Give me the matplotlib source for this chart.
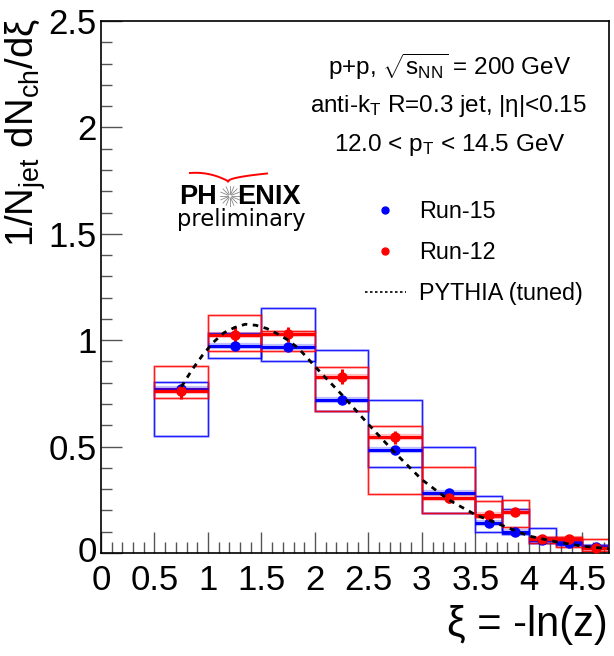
import numpy as np
import matplotlib
matplotlib.use("Agg")
import matplotlib.pyplot as plt
import matplotlib.transforms as mtransforms
from matplotlib.ticker import MultipleLocator
from matplotlib.lines import Line2D

plt.rcParams['font.family'] = ['Liberation Sans', 'DejaVu Sans']
plt.rcParams['mathtext.fontset'] = 'custom'
plt.rcParams['mathtext.rm'] = 'Liberation Sans'
plt.rcParams['mathtext.it'] = 'Liberation Sans'
plt.rcParams['mathtext.bf'] = 'Liberation Sans:bold'

# ---- data ----
bin_edges = [0.5, 1.0, 1.5, 2.0, 2.5, 3.0, 3.5, 3.75, 4.0, 4.25, 4.5, 4.75]

run15 = [0.770, 0.973, 0.970, 0.720, 0.486, 0.284, 0.140, 0.100, 0.061, 0.046, 0.030]
run15_stat = [0.012, 0.010, 0.010, 0.010, 0.010, 0.008, 0.006, 0.005, 0.004, 0.004, 0.003]
run15_sys_lo = [0.552, 0.917, 0.904, 0.665, 0.402, 0.190, 0.100, 0.089, 0.046, 0.038, 0.022]
run15_sys_hi = [0.805, 1.034, 1.152, 0.954, 0.717, 0.498, 0.268, 0.206, 0.116, 0.056, 0.036]

run12 = [0.759, 1.025, 1.028, 0.829, 0.543, 0.260, 0.177, 0.191, 0.066, 0.067, 0.022]
run12_stat = [0.035, 0.040, 0.035, 0.035, 0.030, 0.025, 0.012, 0.012, 0.008, 0.008, 0.006]
run12_sys_lo = [0.727, 0.948, 0.951, 0.669, 0.275, 0.190, 0.167, 0.121, 0.049, 0.030, 0.011]
run12_sys_hi = [0.879, 1.119, 1.045, 0.873, 0.595, 0.406, 0.245, 0.248, 0.077, 0.077, 0.064]

pythia_xi = [0.75, 0.85, 0.95, 1.05, 1.15, 1.25, 1.35, 1.45, 1.55, 1.65, 1.75, 1.85,
             1.95, 2.05, 2.25, 2.5, 2.75, 3.0, 3.25, 3.5, 3.75, 4.0, 4.25, 4.5, 4.75]
pythia_y = [0.78, 0.86, 0.93, 0.99, 1.035, 1.06, 1.075, 1.07, 1.055, 1.03, 1.0, 0.96,
            0.905, 0.85, 0.745, 0.605, 0.47, 0.345, 0.25, 0.18, 0.13, 0.08, 0.053, 0.032, 0.02]

x_ticks = [0, 0.5, 1, 1.5, 2, 2.5, 3, 3.5, 4, 4.5]
x_tick_labels = ["0", "0.5", "1", "1.5", "2", "2.5", "3", "3.5", "4", "4.5"]
y_ticks = [0, 0.5, 1, 1.5, 2, 2.5]
y_tick_labels = ["0", "0.5", "1", "1.5", "2", "2.5"]

# ---- figure ----
W, H = 614, 656
fig = plt.figure(figsize=(W / 100, H / 100), dpi=100)
ax = fig.add_axes([101 / W, 1 - 553 / H, (609 - 101) / W, (553 - 21) / H])

edges = np.array(bin_edges)
lo_e = edges[:-1]
hi_e = edges[1:]
centers = 0.5 * (lo_e + hi_e)
widths = hi_e - lo_e

BLUE = (0, 0, 1)
RED = (1, 0, 0)

def draw_series(vals, stat, slo, shi, color):
    vals = np.array(vals); slo = np.array(slo); shi = np.array(shi)
    ax.bar(centers, shi - slo, bottom=slo, width=widths, fill=False,
           edgecolor=color, linewidth=2.0, alpha=0.2, zorder=2)
    ax.bar(centers, shi - slo, bottom=slo, width=widths, fill=False,
           edgecolor=color, linewidth=1.0, alpha=0.85, zorder=2)
    ax.hlines(vals, lo_e, hi_e, colors=[color], linewidth=4.5, alpha=0.25, zorder=3)
    ax.hlines(vals, lo_e, hi_e, colors=[color], linewidth=2.2, zorder=3)
    ax.errorbar(centers, vals, yerr=stat, fmt='o', color=color, markersize=6.5,
                elinewidth=2.2, capsize=0, zorder=4)

draw_series(run15, run15_stat, run15_sys_lo, run15_sys_hi, BLUE)
draw_series(run12, run12_stat, run12_sys_lo, run12_sys_hi, RED)

ax.plot(pythia_xi, pythia_y, color='black', linestyle=(0, (2.0, 2.0)), linewidth=2.0, zorder=5)

ax.set_xlim(0, 4.75)
ax.set_ylim(0, 2.5)
ax.set_xticks(x_ticks)
ax.set_xticklabels(x_tick_labels)
ax.set_yticks(y_ticks)
ax.set_yticklabels(y_tick_labels)
ax.xaxis.set_minor_locator(MultipleLocator(0.1))
ax.yaxis.set_minor_locator(MultipleLocator(0.1))
ax.tick_params(which='both', direction='in', top=False, right=False, width=1, color='#555555')
ax.tick_params(which='major', length=15, labelsize=25)
ax.tick_params(which='minor', length=8)
ax.tick_params(axis='x', which='major', pad=8)
ax.tick_params(axis='y', which='major', pad=3)
for s in ax.spines.values():
    s.set_linewidth(1.2)

# nudge the y "0" label up a little so it does not collide with the x "0"
y0_label = ax.get_yticklabels()[0]
y0_label.set_transform(y0_label.get_transform() +
                       mtransforms.ScaledTranslation(0, 4 / 100, fig.dpi_scale_trans))

# axis titles
fig.text(608 / W, 1 - 625 / H, "ξ = -ln(z)", ha='right', va='center', fontsize=30)
fig.text(26 / W, 1 - 18 / H, r"1/N$_{\mathregular{jet}}$ dN$_{\mathregular{ch}}$/dξ",
         rotation=90, ha='center', va='top', fontsize=27.5)

# annotations
fig.text(450 / W, 1 - 67 / H, r"p+p, $\sqrt{\mathregular{s_{NN}}}$ = 200 GeV",
         ha='center', va='center', fontsize=17.5)
fig.text(448 / W, 1 - 106 / H, r"anti-k$_{\mathregular{T}}$ R=0.3 jet, |η|<0.15",
         ha='center', va='center', fontsize=17.5)
fig.text(450 / W, 1 - 145 / H, r"12.0 < p$_{\mathregular{T}}$ < 14.5 GeV",
         ha='center', va='center', fontsize=17.5)

# legend
handles = [
    Line2D([], [], color=BLUE, marker='o', linestyle='none', markersize=5),
    Line2D([], [], color=RED, marker='o', linestyle='none', markersize=5),
    Line2D([], [], color='black', linestyle=(0, (1.5, 1.5)), linewidth=1.2),
]
ax.legend(handles, ["Run-15", "Run-12", "PYTHIA (tuned)"], loc='upper left',
          bbox_to_anchor=(365 / W, 1 - 200 / H), bbox_transform=fig.transFigure,
          frameon=False, fontsize=16.8, handlelength=1.75, handletextpad=0.55,
          labelspacing=0.78, borderpad=0, borderaxespad=0)

# PHENIX logo
lax = fig.add_axes([170 / W, 1 - 240 / H, 145 / W, 75 / H])
lax.set_xlim(170, 315)
lax.set_ylim(240, 165)
lax.axis('off')
lax.text(179, 204, "PH", fontsize=19.5, fontweight='bold', ha='left', va='baseline')
lax.text(237, 204, "ENIX", fontsize=19.5, fontweight='bold', ha='left', va='baseline')
lax.text(177, 226, "preliminary", fontsize=16.3, family='DejaVu Sans', ha='left', va='baseline')
ang = np.linspace(0, 2 * np.pi, 16, endpoint=False)
for a in ang:
    lax.plot([230 + 2 * np.cos(a), 230 + 10 * np.cos(a)],
             [196 + 2 * np.sin(a), 196 + 10 * np.sin(a)], color='#888888', lw=0.6)
t = np.linspace(0, 1, 30)
lax.plot(190 + 38 * t, 173 - 1.5 * np.sin(np.pi * t * 0.6) + 9.5 * t ** 2, color='red', lw=1.4)
lax.plot(228 + 39 * t, 181.5 - 8 * np.sqrt(t), color='red', lw=1.4)

fig.savefig("out.png", dpi=100)
